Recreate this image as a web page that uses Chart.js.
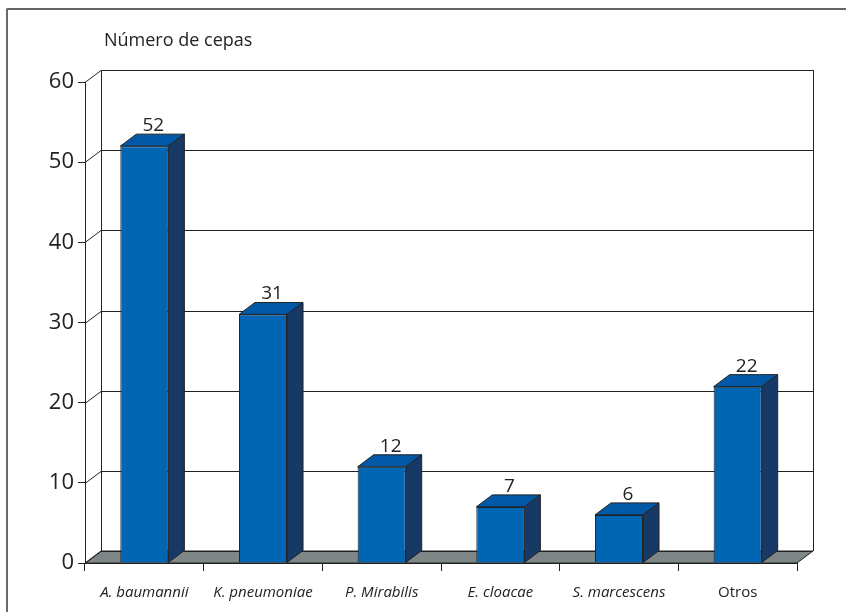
<!DOCTYPE html>
<html>
<head>
<meta charset="utf-8">
<script src="https://cdn.jsdelivr.net/npm/chart.js@4/dist/chart.umd.min.js"></script>
<style>
  html, body { margin: 0; padding: 0; background: #fff; }
  #wrap { position: relative; width: 846px; height: 612px; }
</style>
</head>
<body>
<div id="wrap"><canvas id="c"></canvas></div>
<script>
// Strains per organism
const categories = ['A. baumannii', 'K. pneumoniae', 'P. Mirabilis', 'E. cloacae', 'S. marcescens', 'Otros'];
const cepas = [52, 31, 12, 7, 6, 22];
const yTicks = [0, 10, 20, 30, 40, 50, 60];
const axisTitle = 'Número de cepas';

// depth of the pseudo-3D box (px)
const DX = 16, DY = -12;
const FRONT = '#0066b3', TOP = '#0058a6', SIDE = '#173966', FLOOR = '#7e8687', LINE = '#222';

const depthPlugin = {
  id: 'depth3d',
  beforeDraw(chart) {
    const ctx = chart.ctx;
    ctx.save();
    // outer frame
    ctx.strokeStyle = '#333';
    ctx.lineWidth = 1.5;
    ctx.beginPath(); ctx.moveTo(7, 9); ctx.lineTo(chart.width, 9); ctx.stroke();
    ctx.strokeStyle = '#6a6a6a';
    ctx.lineWidth = 2;
    ctx.beginPath(); ctx.moveTo(7, 8.5); ctx.lineTo(7, chart.height); ctx.stroke();
    // axis title
    ctx.fillStyle = '#222';
    ctx.font = '18px "Open Sans"';
    ctx.textAlign = 'left';
    ctx.textBaseline = 'alphabetic';
    ctx.fillText(axisTitle, 104, 46);
    ctx.restore();
  },
  beforeDatasetsDraw(chart) {
    const { ctx, chartArea: a, scales: { y } } = chart;
    const y0 = y.getPixelForValue(0);
    const yTop = y.getPixelForValue(y.max);
    ctx.save();
    ctx.lineWidth = 1;
    ctx.strokeStyle = LINE;
    // floor
    ctx.fillStyle = FLOOR;
    ctx.beginPath();
    ctx.moveTo(a.left, y0);
    ctx.lineTo(a.right, y0);
    ctx.lineTo(a.right + DX, y0 + DY);
    ctx.lineTo(a.left + DX, y0 + DY);
    ctx.closePath();
    ctx.fill();
    ctx.stroke();
    // back-wall gridlines and their links to the front axis
    y.ticks.forEach(t => {
      const py = Math.round(y.getPixelForValue(t.value)) + 0.5;
      ctx.beginPath();
      ctx.moveTo(a.left + DX, py + DY);
      ctx.lineTo(a.right + DX, py + DY);
      ctx.moveTo(a.left, py);
      ctx.lineTo(a.left + DX, py + DY);
      ctx.stroke();
    });
    // side walls
    ctx.beginPath();
    ctx.moveTo(a.left + DX + 0.5, yTop + DY);
    ctx.lineTo(a.left + DX + 0.5, y0 + DY);
    ctx.moveTo(a.right + DX + 0.5, yTop + DY);
    ctx.lineTo(a.right + DX + 0.5, y0 + DY);
    ctx.stroke();
    ctx.restore();
  },
  afterDatasetsDraw(chart) {
    const ctx = chart.ctx;
    const meta = chart.getDatasetMeta(0);
    const data = chart.data.datasets[0].data;
    ctx.save();
    ctx.lineWidth = 1;
    ctx.strokeStyle = LINE;
    ctx.lineJoin = 'round';
    meta.data.forEach((bar, i) => {
      const { x, y, width, base } = bar.getProps(['x', 'y', 'width', 'base'], true);
      const l = x - width / 2, r = x + width / 2;
      // top face
      ctx.fillStyle = TOP;
      ctx.beginPath();
      ctx.moveTo(l, y); ctx.lineTo(r, y);
      ctx.lineTo(r + DX, y + DY); ctx.lineTo(l + DX, y + DY);
      ctx.closePath(); ctx.fill(); ctx.stroke();
      // side face
      ctx.fillStyle = SIDE;
      ctx.beginPath();
      ctx.moveTo(r, y); ctx.lineTo(r + DX, y + DY);
      ctx.lineTo(r + DX, base + DY); ctx.lineTo(r, base);
      ctx.closePath(); ctx.fill(); ctx.stroke();
      // value label
      ctx.fillStyle = '#222';
      ctx.font = '19px "Open Sans"';
      ctx.textAlign = 'center';
      ctx.textBaseline = 'alphabetic';
      ctx.fillText(String(data[i]), x + DX / 2 + 1, y + DY - 3);
    });
    ctx.restore();
  }
};

new Chart(document.getElementById('c'), {
  type: 'bar',
  data: {
    labels: categories,
    datasets: [{
      data: cepas,
      backgroundColor: FRONT,
      borderColor: LINE,
      borderWidth: 1,
      barPercentage: 0.405,
      categoryPercentage: 1
    }]
  },
  options: {
    responsive: true,
    maintainAspectRatio: false,
    devicePixelRatio: 1,
    animation: false,
    layout: { padding: { top: 82, right: 49, left: 0, bottom: 0 } },
    plugins: { legend: { display: false }, tooltip: { enabled: false } },
    scales: {
      y: {
        min: 0, max: 60,
        afterBuildTicks: s => { s.ticks = yTicks.map(v => ({ value: v })); },
        afterFit: s => { s.width = 85; },
        border: { display: true, color: LINE, width: 1 },
        grid: { drawOnChartArea: false, drawTicks: true, tickLength: 7, color: LINE },
        ticks: { color: '#222', font: { family: 'Open Sans', size: 22 }, padding: 4 }
      },
      x: {
        afterFit: s => { s.height = 49; },
        border: { display: true, color: LINE, width: 1 },
        grid: { drawOnChartArea: false, drawTicks: true, tickLength: 8, color: LINE, offset: true },
        ticks: {
          color: '#222',
          // species names in italics, the "Otros" group upright
          font: c => ({ family: 'Open Sans', size: 15, style: categories[c.index] === 'Otros' ? 'normal' : 'italic' }),
          padding: 13,
          maxRotation: 0
        }
      }
    }
  },
  plugins: [depthPlugin]
});
</script>
</body>
</html>
